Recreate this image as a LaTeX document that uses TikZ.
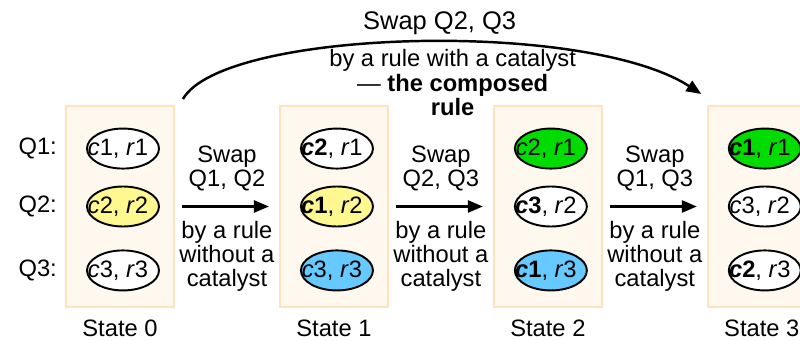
\documentclass[tikz,border=0pt]{standalone}
\usepackage{fontspec}
\setmainfont{Liberation Sans}
\usepackage{xcolor}
\usepackage{tikz}
\usetikzlibrary{arrows.meta, positioning, shapes.geometric}

\definecolor{stfill}{HTML}{FFF8EE}
\definecolor{stline}{HTML}{FFE3BF}
\definecolor{qyellow}{HTML}{FFF891}
\definecolor{qgreen}{HTML}{00DC00}
\definecolor{qblue}{HTML}{66C9FF}

\newcommand{\cval}[1]{\textit{c}#1}
\newcommand{\cbold}[1]{\textbf{\textit{c}#1}}
\newcommand{\rval}[1]{\textit{r}#1}

\begin{document}
\begin{tikzpicture}[
    every node/.style={align=center, font=\fontsize{13.5pt}{13.5pt}\selectfont},
    every label/.style={xshift=-0.1cm},
    statebox/.style={rectangle, draw=stline, line width=1.1pt, fill=stfill, minimum width=2.16cm, minimum height=4.02cm},
    qbit/.style={ellipse, draw, fill=white, line width=1.1pt, minimum width=1.44cm, minimum height=0.8cm, inner sep=0pt},
    arrow/.style={-{Triangle[length=0.3cm, width=0.24cm]}, line width=1.4pt}
]
\useasboundingbox (0,0) rectangle (16,-6.82);

% States
\node[statebox] (st0) at (2.4,-4.13) {};
\node[statebox, right=2.08cm of st0] (st1) {};
\node[statebox, right=2.08cm of st1] (st2) {};
\node[statebox, right=2.08cm of st2] (st3) {};

% State 0
\node[qbit, xshift=0.06cm, fill=qyellow, label=center:{\cval2, \rval2}] (s0q2) at (st0) {};
\node[qbit, above=0.32cm of s0q2, label=center:{\cval1, \rval1}] (s0q1) {};
\node[qbit, below=0.44cm of s0q2, label=center:{\cval3, \rval3}] (s0q3) {};

% State 1
\node[qbit, xshift=0.06cm, fill=qyellow, label=center:{\cbold1, \rval2}] (s1q2) at (st1) {};
\node[qbit, above=0.32cm of s1q2, label=center:{\cbold2, \rval1}] (s1q1) {};
\node[qbit, below=0.44cm of s1q2, fill=qblue, label=center:{\cval3, \rval3}] (s1q3) {};

% State 2
\node[qbit, xshift=0.06cm, label=center:{\cbold3, \rval2}] (s2q2) at (st2) {};
\node[qbit, above=0.32cm of s2q2, fill=qgreen, label=center:{\cval2, \rval1}] (s2q1) {};
\node[qbit, below=0.44cm of s2q2, fill=qblue, label=center:{\cbold1, \rval3}] (s2q3) {};

% State 3
\node[qbit, xshift=0.06cm, label=center:{\cval3, \rval2}] (s3q2) at (st3) {};
\node[qbit, above=0.32cm of s3q2, fill=qgreen, label=center:{\cbold1, \rval1}] (s3q1) {};
\node[qbit, below=0.44cm of s3q2, label=center:{\cbold2, \rval3}] (s3q3) {};

% Row names
\node[left=0.46cm of s0q1] (q1) {Q1:};
\node[left=0.46cm of s0q2] (q2) {Q2:};
\node[left=0.46cm of s0q3] (q3) {Q3:};

% State names
\node[below=0.12cm of st0] (lb0) {State 0};
\node[below=0.12cm of st1] (lb1) {State 1};
\node[below=0.12cm of st2] (lb2) {State 2};
\node[below=0.12cm of st3] (lb3) {State 3};

% Arrows
\draw[arrow, shorten <=0.14cm, shorten >=0.2cm] (st0) -- (st1)
    node[midway, above=0.17cm] {Swap\\Q1, Q2}
    node[midway, below=0.16cm] {by a rule\\without a\\catalyst};
\draw[arrow, shorten <=0.14cm, shorten >=0.2cm] (st1) -- (st2)
    node[midway, above=0.17cm] {Swap\\Q2, Q3}
    node[midway, below=0.16cm] {by a rule\\without a\\catalyst};
\draw[arrow, shorten <=0.14cm, shorten >=0.2cm] (st2) -- (st3)
    node[midway, above=0.17cm] {Swap\\Q1, Q3}
    node[midway, below=0.16cm] {by a rule\\without a\\catalyst};

% Composed rule
\draw[arrow] ([shift={(0.16,0.12)}]st0.north east) .. controls +(0.8,1.4) and +(-2.32,1.5) .. ([shift={(-0.11,0.22)}]st3.north west)
    node[midway, above, xshift=0.52cm, font=\fontsize{14.5pt}{15pt}\selectfont] {Swap Q2, Q3}
    node[midway, below, xshift=0.78cm, font=\fontsize{13.5pt}{14pt}\selectfont] {by a rule with a catalyst\\— \textbf{the composed}\\\textbf{rule}};

\end{tikzpicture}
\end{document}
